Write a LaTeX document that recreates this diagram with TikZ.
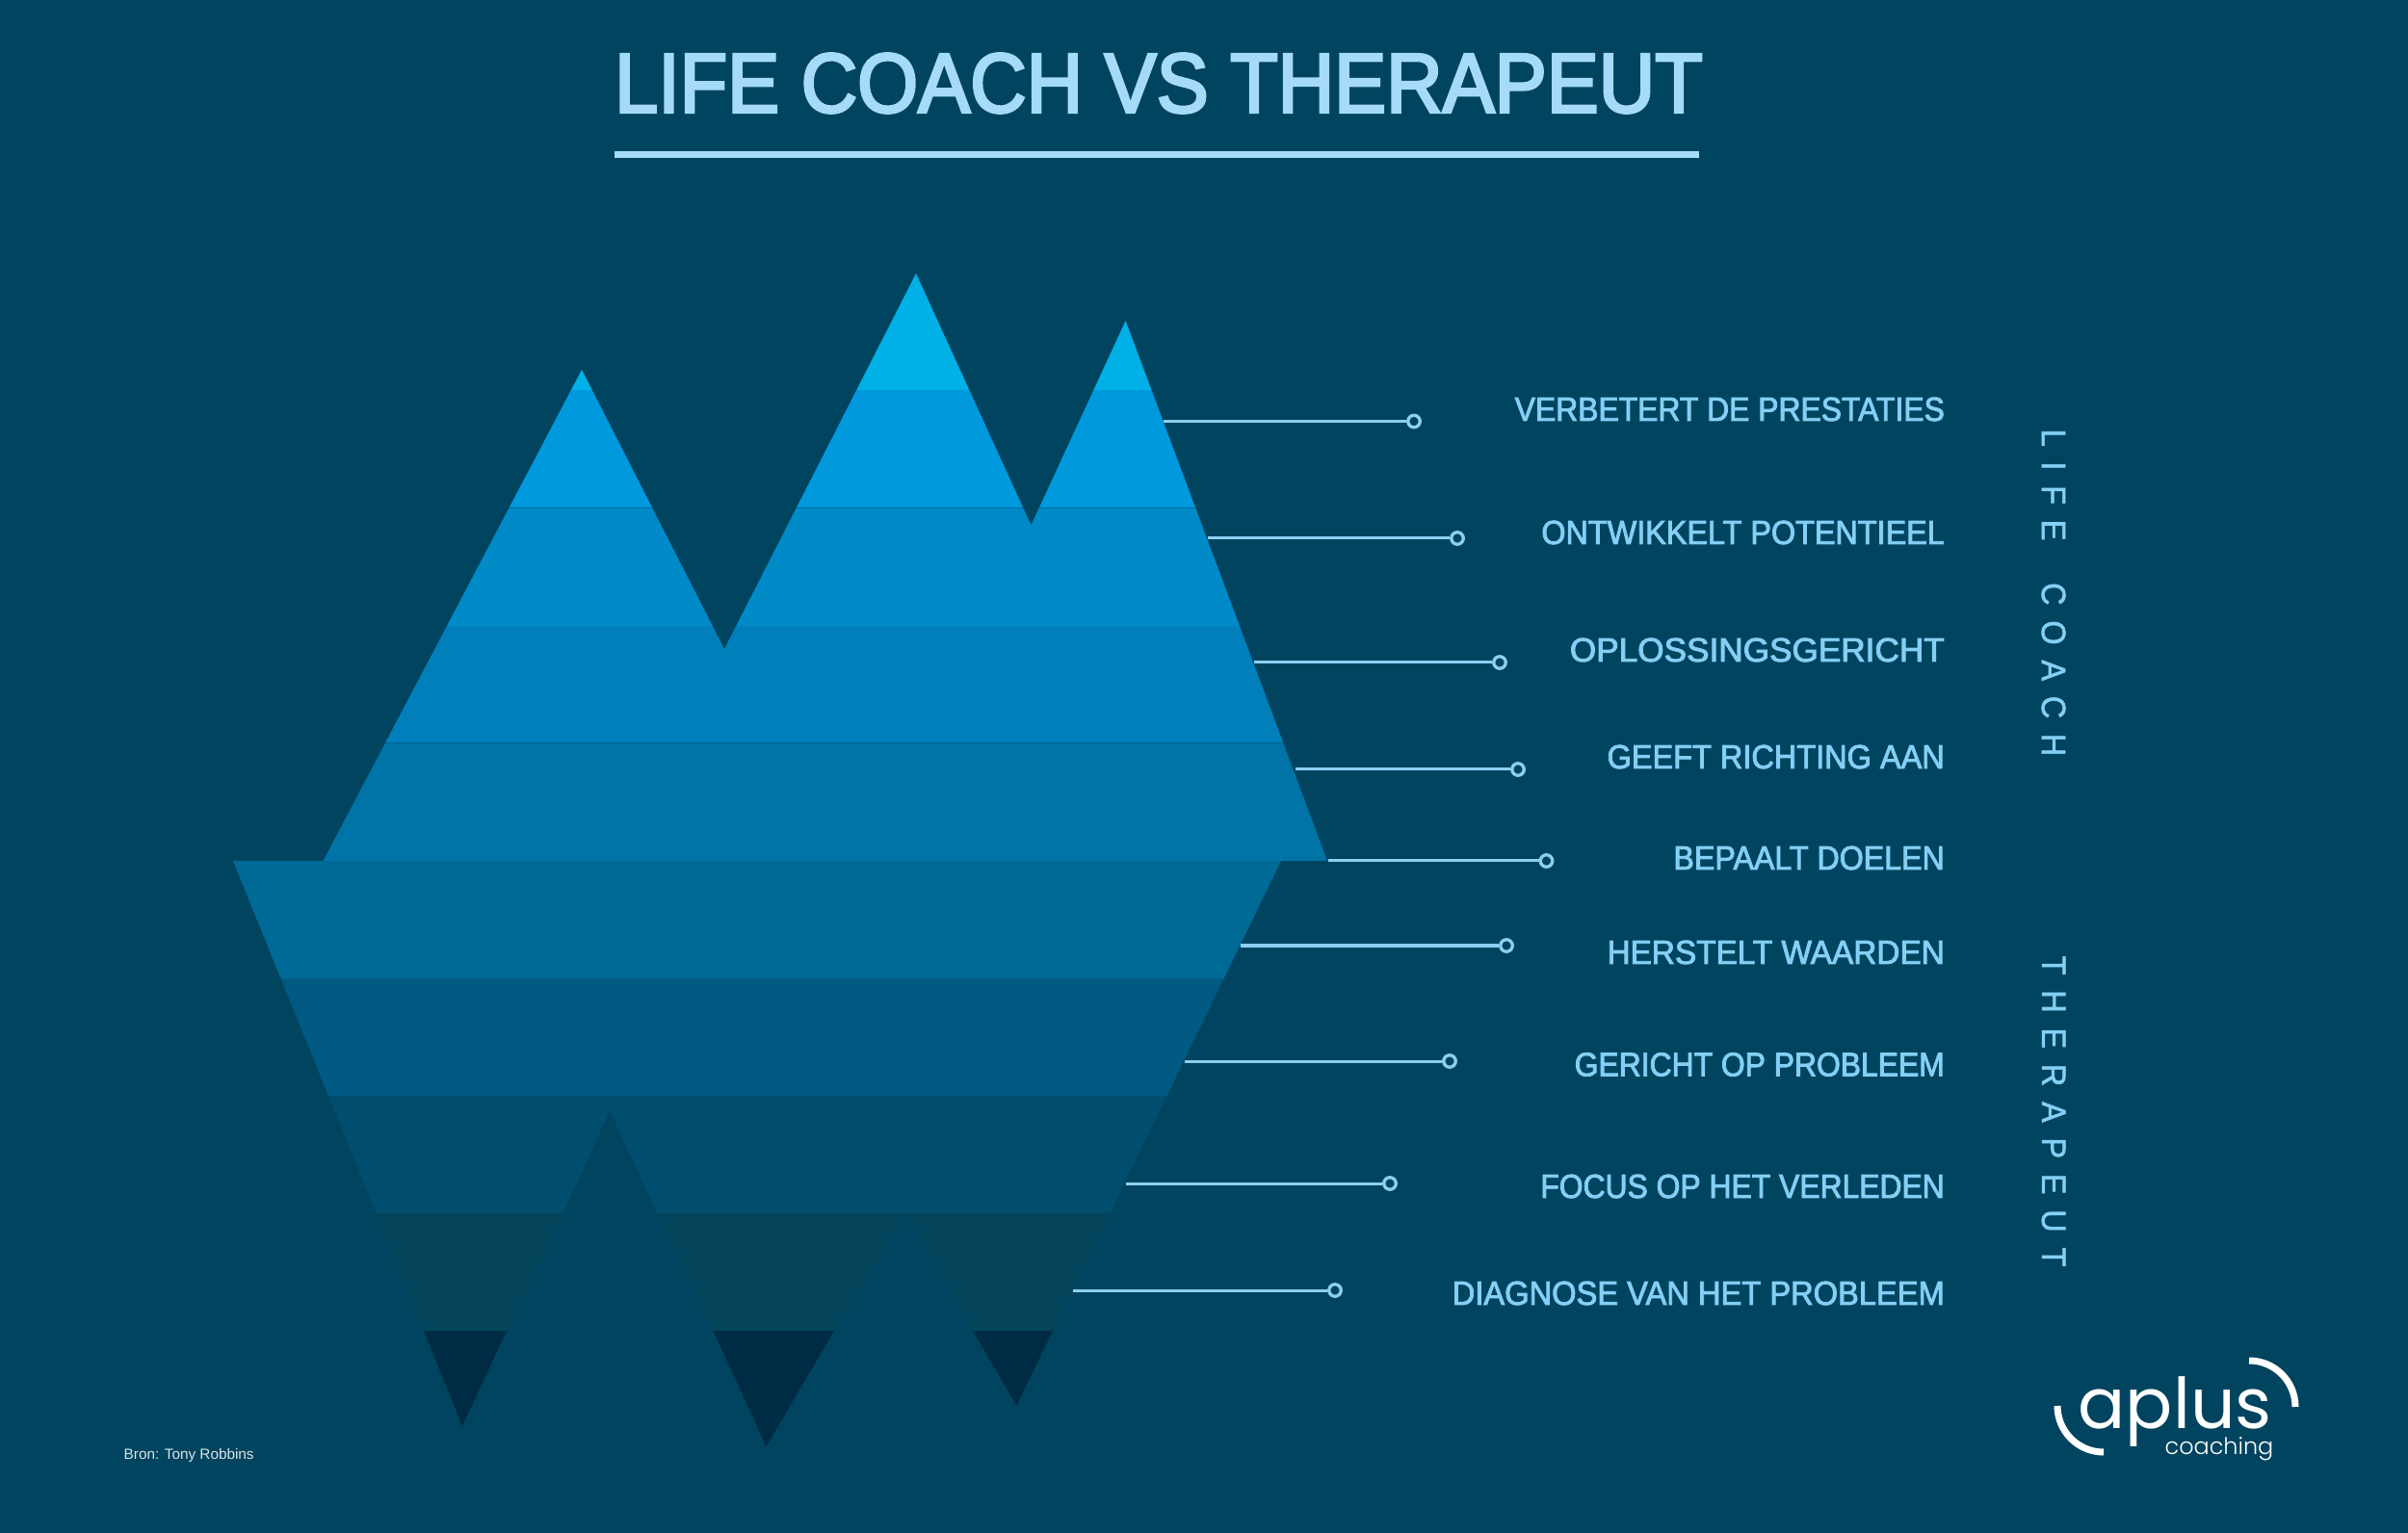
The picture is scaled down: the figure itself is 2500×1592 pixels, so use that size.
\documentclass[tikz,border=0pt]{standalone}
\usepackage{fontspec}
\setmainfont{Liberation Sans}
\newfontfamily\titlefont[FakeBold=3.2,FakeStretch=0.925]{Liberation Sans}
\newfontfamily\pointfont[FakeBold=2.4,FakeStretch=0.915]{Liberation Sans}
\newfontfamily\sidefont[FakeBold=1.6,FakeStretch=0.92,LetterSpace=45]{Liberation Sans}
\newfontfamily\logofont{Poppins}
\newfontfamily\logolight{Poppins Light}
\usetikzlibrary{positioning}
\definecolor{bgblue}{HTML}{00445F}
\definecolor{titleblue}{HTML}{A5DBF9}
\definecolor{textblue}{HTML}{84CFF5}
\definecolor{lineblue}{HTML}{8CCFF2}
\definecolor{bandA}{HTML}{00B0E6}
\definecolor{bandB}{HTML}{0099DD}
\definecolor{bandC}{HTML}{008BC8}
\definecolor{bandD}{HTML}{007FBA}
\definecolor{bandE}{HTML}{0073A7}
\definecolor{bandF}{HTML}{006A96}
\definecolor{bandG}{HTML}{005A82}
\definecolor{bandH}{HTML}{004D6E}
\definecolor{bandI}{HTML}{03445B}
\definecolor{bandJ}{HTML}{002B44}

\begin{document}
\begin{tikzpicture}[
    x=0.01cm,
    y=-0.01cm,
    title/.style={
		text=titleblue,
		inner sep=0pt,
		font=\titlefont\fontsize{24.9}{26}\selectfont
	},
	point/.style={
		text=textblue,
		anchor=east,
		inner sep=0pt,
		font=\pointfont\fontsize{9.9}{11}\selectfont
	},
	side/.style={
		text=textblue,
		rotate=-90,
		inner sep=0pt,
		font=\sidefont\fontsize{10}{11}\selectfont
	},
	dot/.style={
		circle,
		draw=lineblue,
		fill=bgblue,
		line width=0.033cm,
		minimum size=0.125cm,
		inner sep=0pt
	},
	leader/.style={
		draw=lineblue,
		line width=0.03cm
	},
	logo/.style={
		text=white,
		inner sep=0pt
	}
  ]
  \useasboundingbox (0,0) rectangle (2500,1592);
  \fill [bgblue] (0,0) rectangle (2500,1592);

  % We start with the title
  \node [title] (title) at (1203,86.5) {LIFE COACH VS THERAPEUT};
  \fill [titleblue] (638,157) rectangle (1764,164.5);

  % The part above the water
  \begin{scope}
    \clip (335.5,894) -- (604,384) -- (752,674) -- (951,284) -- (1070.5,545.5) -- (1168.6,333) -- (1378,894) -- cycle;
    \fill [bandA] (300,280) rectangle (1400,405.5);
    \fill [bandB] (300,405.5) rectangle (1400,527.7);
    \fill [bandC] (300,527.7) rectangle (1400,649.6);
    \fill [bandD] (300,649.6) rectangle (1400,771.4);
    \fill [bandE] (300,771.4) rectangle (1400,894);
    \fill [bandD!85!black] (300,526.9) rectangle (1400,528.5);
    \fill [bandE!85!black] (300,770.6) rectangle (1400,772.2);
  \end{scope}

  % The part below the water
  \begin{scope}
    \clip (242,894) -- (1330,894) -- (1093,1382) -- (1010,1382) -- (941,1259.5) -- (866,1382) -- (740.5,1382) -- (682,1259.5) -- (633,1153.6) -- (585,1259.5) -- (526,1382) -- (440,1382) -- cycle;
    \fill [bandF] (200,894) rectangle (1400,1015.5);
    \fill [bandG] (200,1015.5) rectangle (1400,1137.5);
    \fill [bandH] (200,1137.5) rectangle (1400,1259.5);
    \fill [bandI] (200,1259.5) rectangle (1400,1382);
  \end{scope}
  \fill [bandJ] (440,1382) -- (526,1382) -- (480,1481) -- cycle;
  \fill [bandJ] (740.5,1382) -- (866,1382) -- (795.5,1502) -- cycle;
  \fill [bandJ] (1010,1382) -- (1093,1382) -- (1055.4,1459.6) -- cycle;

  % The labels on the right
  \node [point] (verbetert) at (2019.5,425) {VERBETERT DE PRESTATIES};
  \node [point, xscale=1.016] (ontwikkelt) at (2019.5,553) {ONTWIKKELT POTENTIEEL};
  \node [point, xscale=1.104] (oplossing) at (2019.5,675) {OPLOSSINGSGERICHT};
  \node [point, xscale=1.02] (richting) at (2019.5,786) {GEEFT RICHTING AAN};
  \node [point, xscale=1.01] (doelen) at (2019.5,891) {BEPAALT DOELEN};
  \node [point, xscale=1.047] (waarden) at (2019.5,989) {HERSTELT WAARDEN};
  \node [point] (gericht) at (2019.5,1105.5) {GERICHT OP PROBLEEM};
  \node [point] (verleden) at (2019.5,1232) {FOCUS OP HET VERLEDEN};
  \node [point, xscale=1.025] (diagnose) at (2019.5,1343) {DIAGNOSE VAN HET PROBLEEM};

  \node [side] (lifecoach) at (2132,615.5) {LIFE\hspace{0.19cm} COACH};
  \node [side] (therapeut) at (2132,1154) {THERAPEUT};

  % Dots and the lines going to them
  \node [dot] (dot1) at (1468,437.5) {};
  \node [dot] (dot2) at (1513,559) {};
  \node [dot] (dot3) at (1557,688) {};
  \node [dot] (dot4) at (1576,799) {};
  \node [dot] (dot5) at (1605.5,894) {};
  \node [dot] (dot6) at (1564,982) {};
  \node [dot] (dot7) at (1505,1102) {};
  \node [dot] (dot8) at (1443,1229) {};
  \node [dot] (dot9) at (1386,1340) {};

  \coordinate (edge1) at (1208,437.5);
  \coordinate (edge2) at (1254,559);
  \coordinate (edge3) at (1302,688);
  \coordinate (edge4) at (1345,799);
  \coordinate (edge5) at (1379,894);
  \coordinate (edge6) at (1288,982);
  \coordinate (edge7) at (1230,1102);
  \coordinate (edge8) at (1168.6,1229);
  \coordinate (edge9) at (1114,1340);

  \draw [leader] (edge1) -- (dot1);
  \draw [leader] (edge2) -- (dot2);
  \draw [leader] (edge3) -- (dot3);
  \draw [leader] (edge4) -- (dot4);
  \draw [leader] (edge5) -- (dot5);
  \draw [leader] (edge6) -- (dot6);
  \draw [leader] (edge7) -- (dot7);
  \draw [leader] (edge8) -- (dot8);
  \draw [leader] (edge9) -- (dot9);

  % Source and logo
  \node [logo, anchor=west, text=white!85!bgblue, font=\fontsize{4.35}{5}\selectfont] (bron) at (128,1512) {Bron: Tony Robbins};
  \node [logo, anchor=base west, font=\logofont\fontsize{20.7}{22}\selectfont] (aplus) at (2157,1483) {aplus};
  \node [logo, anchor=base east, font=\logolight\fontsize{6.8}{8}\selectfont] (coaching) at (2361,1510) {coaching};
  \draw [white, line width=0.07cm] (2136,1460) arc [start angle=180, end angle=90, radius=48];
  \draw [white, line width=0.07cm] (2335,1413) arc [start angle=270, end angle=360, radius=48];
\end{tikzpicture}
\end{document}
